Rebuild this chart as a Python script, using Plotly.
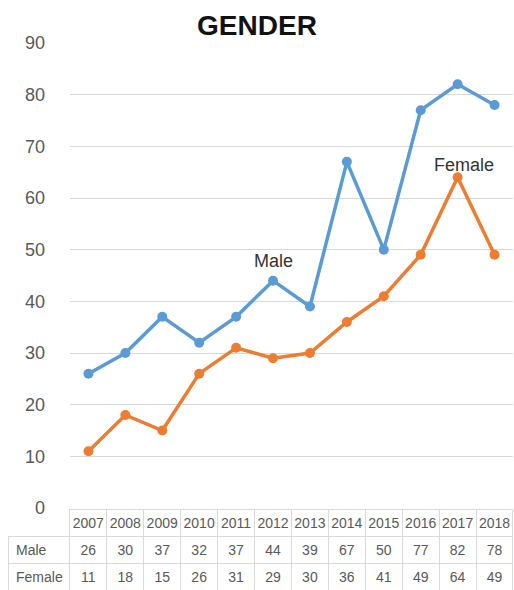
import plotly.graph_objects as go

years = [2007, 2008, 2009, 2010, 2011, 2012, 2013, 2014, 2015, 2016, 2017, 2018]
male = [26, 30, 37, 32, 37, 44, 39, 67, 50, 77, 82, 78]
female = [11, 18, 15, 26, 31, 29, 30, 36, 41, 49, 64, 49]
series_names = ["Male", "Female"]
title_text = "GENDER"

W, H = 514, 590
BLUE = "#5B9BD5"
ORANGE = "#ED7D31"
GRID = "#D9D9D9"
TXT = "#595959"
CLEAR = "rgba(0,0,0,0)"

fig = go.Figure()
fig.add_trace(go.Scatter(x=years, y=male, mode="lines+markers", name=series_names[0],
                         line=dict(color=BLUE, width=3.5), marker=dict(size=10, color=BLUE),
                         xaxis="x", yaxis="y"))
fig.add_trace(go.Scatter(x=years, y=female, mode="lines+markers", name=series_names[1],
                         line=dict(color=ORANGE, width=3.5), marker=dict(size=10, color=ORANGE),
                         xaxis="x", yaxis="y"))

col_w = [62] + [37] * len(years)
fig.add_trace(go.Table(
    domain=dict(x=[8 / W, 513 / W], y=[0, 81 / H]),
    columnwidth=col_w,
    header=dict(values=[""] + [str(y) for y in years],
                height=27, align="center",
                fill=dict(color=CLEAR),
                line=dict(color=[CLEAR] + [GRID] * len(years), width=1),
                font=dict(family="Liberation Sans", size=14, color=TXT)),
    cells=dict(values=[series_names] + [[m, f] for m, f in zip(male, female)],
               height=27, align=["left"] + ["center"] * len(years),
               fill=dict(color=CLEAR),
               line=dict(color=GRID, width=1),
               font=dict(family="Liberation Sans", size=14, color=TXT)),
))

fig.update_layout(
    width=W, height=H,
    margin=dict(l=0, r=0, t=0, b=0, autoexpand=False),
    paper_bgcolor="white", plot_bgcolor="white",
    showlegend=False,
    title=dict(text="<b>" + title_text + "</b>", x=0.5, xanchor="center", y=1 - 25 / H, yanchor="middle",
               font=dict(family="Liberation Sans", size=28, color="#111111")),
    xaxis=dict(domain=[70 / W, 513 / W], range=[2006.5, 2018.5], showticklabels=False,
               showgrid=False, zeroline=False, showline=False, ticks="", automargin=False),
    yaxis=dict(domain=[(H - 508) / H, (H - 43) / H], range=[0, 90], dtick=10,
               showgrid=True, gridcolor=GRID, gridwidth=1, zeroline=False, showline=False,
               ticks="", ticklabelstandoff=24, automargin=False,
               tickfont=dict(family="Liberation Sans", size=18, color=TXT)),
    annotations=[
        dict(x=years[5], y=47.8, xref="x", yref="y", text=series_names[0], showarrow=False,
             font=dict(family="Liberation Sans", size=18, color="#333333")),
        dict(x=years[10] + 0.18, y=66.3, xref="x", yref="y", text=series_names[1], showarrow=False,
             font=dict(family="Liberation Sans", size=18, color="#333333")),
    ],
)

fig.write_html("out.html", config={"displayModeBar": False},
               post_script="document.body.style.margin='0';document.body.style.overflow='hidden';")
